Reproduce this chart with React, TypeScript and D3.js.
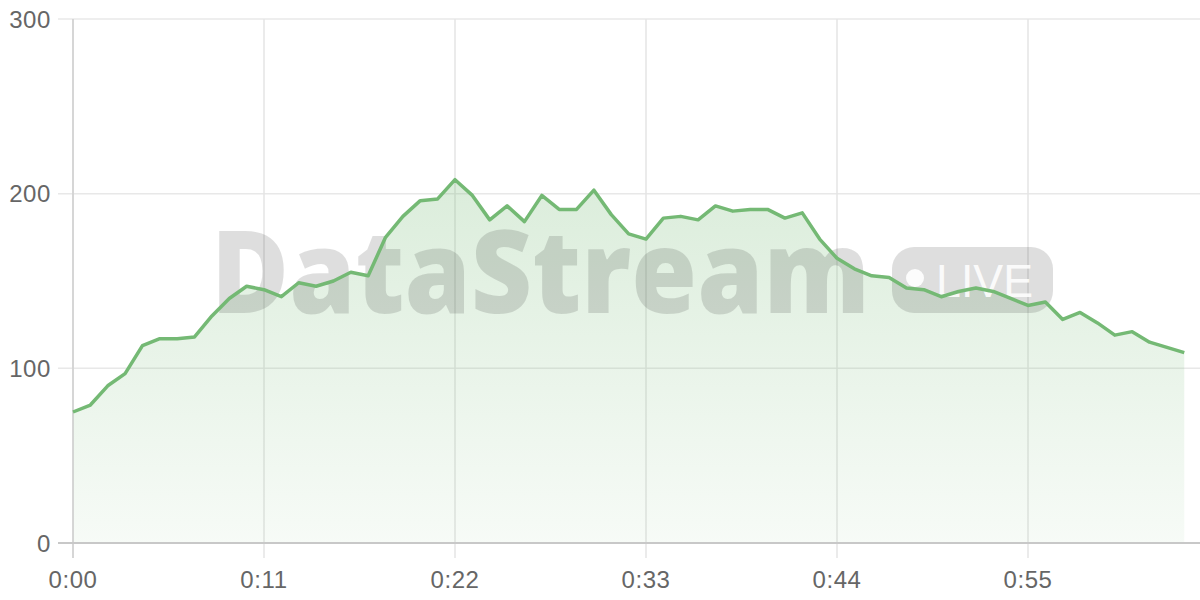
import React from "react";
import * as d3 from "d3";

const seconds: number[] = Array.from({ length: 65 }, (_, i) => i);
const values: number[] = [
  75, 79, 90, 97, 113, 117, 117, 118, 130, 140,
  147, 145, 141, 149, 147, 150, 155, 153, 175, 187,
  196, 197, 208, 199, 185, 193, 184, 199, 191, 191,
  202, 188, 177, 174, 186, 187, 185, 193, 190, 191,
  191, 186, 189, 174, 163, 157, 153, 152, 146, 145,
  141, 144, 146, 144, 140, 136, 138, 128, 132, 126,
  119, 121, 115, 112, 109,
];
const xTicks: number[] = [0, 11, 22, 33, 44, 55];
const yTicks: number[] = [0, 100, 200, 300];
const watermarkText = "DataStream";
const badgeText = "LIVE";

const W = 1200;
const H = 600;
const left = 73;
const right = 1200;
const top = 19;
const bottom = 543;
const font = "'Liberation Sans', Arial, sans-serif";

const fmt = (s: number) => `${Math.floor(s / 60)}:${String(s % 60).padStart(2, "0")}`;

export default function App() {
  const xs = d3.scaleLinear().domain([0, 11]).range([left, 264]);
  const y = d3.scaleLinear().domain([0, 300]).range([bottom, top]);
  const data = seconds.map((s, i) => ({ s, v: values[i] }));
  const line = d3.line<{ s: number; v: number }>().x((d) => xs(d.s)).y((d) => y(d.v));
  const area = d3
    .area<{ s: number; v: number }>()
    .x((d) => xs(d.s))
    .y0(bottom)
    .y1((d) => y(d.v));
  return (
    <svg width={W} height={H} style={{ position: "absolute", left: 0, top: 0, display: "block" }}>
      <defs>
        <linearGradient id="areaGrad" x1={0} x2={0} y1={y(210)} y2={bottom} gradientUnits="userSpaceOnUse">
          <stop offset="0%" stopColor="#74b974" stopOpacity={0.26} />
          <stop offset="100%" stopColor="#74b974" stopOpacity={0.06} />
        </linearGradient>
      </defs>
      <rect x={0} y={0} width={W} height={H} fill="#ffffff" />
      {yTicks.map((t) => (
        <line key={"gy" + t} x1={58} x2={right} y1={y(t)} y2={y(t)} stroke="#e8e8e8" strokeWidth={1.5} />
      ))}
      {xTicks.map((t) => (
        <line key={"gx" + t} x1={xs(t)} x2={xs(t)} y1={top} y2={bottom + 15} stroke="#e4e4e4" strokeWidth={1.5} />
      ))}
      <path d={area(data) || ""} fill="url(#areaGrad)" />
      <g fill="#000" fillOpacity={0.13}>
        <text x={211} y={313} fontFamily="'Open Sans', 'Noto Sans', sans-serif" fontWeight={800} fontSize={115}
          textLength={659} lengthAdjust="spacingAndGlyphs">{watermarkText}</text>
        <rect x={892} y={247} width={161} height={66} rx={22} />
      </g>
      <circle cx={915} cy={278} r={9} fill="#fff" fillOpacity={0.9} />
      <text x={936} y={297} fontFamily="'Liberation Sans', Arial, sans-serif" fontSize={47} fill="#fff" fillOpacity={0.9}
        textLength={97} lengthAdjust="spacingAndGlyphs">{badgeText}</text>
      <line x1={left} x2={left} y1={top} y2={bottom + 15} stroke="#cfcfcf" strokeWidth={1.5} />
      <line x1={58} x2={right} y1={bottom} y2={bottom} stroke="#c8c8c8" strokeWidth={2} />
      <path d={line(data) || ""} fill="none" stroke="#74b974" strokeWidth={3.5} strokeLinejoin="round" />
      {yTicks.map((t) => (
        <text key={"ly" + t} x={51} y={y(t)} dy="0.36em" textAnchor="end" fontFamily={font} fontSize={24}
          letterSpacing={0.6} fill="#666">
          {t}
        </text>
      ))}
      {xTicks.map((t) => (
        <text key={"lx" + t} x={xs(t)} y={588} textAnchor="middle" fontFamily={font} fontSize={24}
          letterSpacing={0.6} fill="#666">
          {fmt(t)}
        </text>
      ))}
    </svg>
  );
}
